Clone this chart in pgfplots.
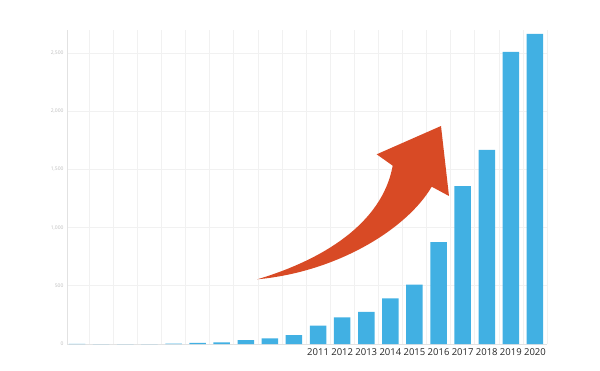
\documentclass[border=0pt]{standalone}
\usepackage{pgfplots}
\pgfplotsset{compat=1.18}
\usepackage{fontspec}
\setmainfont{Open Sans}
\definecolor{barblue}{HTML}{41B0E3}
\definecolor{arrowred}{HTML}{D84A25}
\definecolor{gridgray}{HTML}{F1F1F1}
\definecolor{ylab}{HTML}{BDBDBD}
\pgfplotstableread{
idx year value
0 2001 2
1 2002 0
2 2003 0
3 2004 0
4 2005 4
5 2006 9
6 2007 15
7 2008 34
8 2009 49
9 2010 77
10 2011 157
11 2012 229
12 2013 277
13 2014 392
14 2015 509
15 2016 875
16 2017 1356
17 2018 1667
18 2019 2509
19 2020 2663
}\datatable
\begin{document}
\begin{tikzpicture}
\begin{axis}[
  scale only axis,
  width=480pt, height=314pt,
  xmin=-0.42, xmax=19.5,
  ymin=0, ymax=2697,
  clip=false,
  axis x line*=bottom, axis y line*=left,
  axis line style={draw=gridgray!70!gray!60},
  xtick={10,...,19},
  xticklabels={2011,2012,2013,2014,2015,2016,2017,2018,2019,2020},
  minor xtick={-0.5,0.5,...,19.5},
  xminorgrids=true,
  minor grid style={draw=gridgray, line width=0.6pt},
  ytick={0,500,1000,1500,2000,2500},
  ymajorgrids=true,
  major grid style={draw=gridgray, line width=0.6pt},
  major tick length=0pt, minor tick length=0pt,
  /pgf/number format/assume math mode=true,
  /pgf/number format/1000 sep={,},
  yticklabel style={font=\fontsize{5}{6}\selectfont, text=ylab},
  xticklabel style={font=\fontsize{9.5}{11}\selectfont, text=black!85, yshift=-1pt},
  ybar, bar width=16.5pt,
]
\addplot[fill=barblue, draw=none] table[x=idx, y=value] {\datatable};
\coordinate (O) at (rel axis cs:0,0);
\end{axis}
\begin{scope}[shift={(O)}]
\fill[arrowred] (190.3pt,64.7pt)
  .. controls (255pt,84pt) and (315pt,120pt) .. (325.7pt,178.3pt)
  -- (309.7pt,189.7pt)
  -- (374pt,218pt)
  -- (382pt,148pt)
  -- (364.7pt,157.3pt)
  .. controls (340pt,115pt) and (270pt,72pt) .. (190.3pt,64.7pt)
  -- cycle;
\path (-67pt,-26pt) rectangle (533pt,344pt);
\end{scope}
\end{tikzpicture}
\end{document}
